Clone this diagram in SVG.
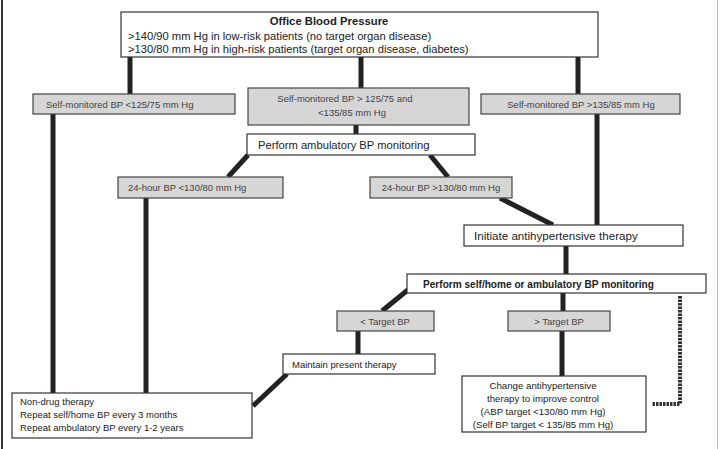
<svg xmlns="http://www.w3.org/2000/svg" width="720" height="449" viewBox="0 0 720 449">
<style>
text{font-family:"Liberation Sans",Arial,sans-serif;fill:#222;}
.w{fill:#fff;stroke:#333;stroke-width:1.2;}
.g{fill:#d6d6d6;stroke:#444;stroke-width:1.2;}
.gt{fill:#444;font-size:9.5px;}
.c{stroke:#222;stroke-width:5;fill:none;}
.m{text-anchor:middle;}
</style>
<rect x="0" y="0" width="720" height="449" fill="#fff"/>
<line x1="2" y1="0" x2="2" y2="449" stroke="#333" stroke-width="2"/>
<line x1="717.5" y1="0" x2="717.5" y2="449" stroke="#bbb" stroke-width="1"/>
<g id="connectors">
<line class="c" x1="130" y1="57" x2="130" y2="94"/>
<line class="c" x1="361" y1="57" x2="361" y2="88"/>
<line class="c" x1="578" y1="57" x2="578" y2="94"/>
<line class="c" x1="356" y1="125" x2="356" y2="134"/>
<line class="c" x1="53" y1="114" x2="53" y2="393"/>
<line class="c" x1="597" y1="114" x2="597" y2="225"/>
<line class="c" x1="248" y1="155" x2="228" y2="177"/>
<line class="c" x1="430" y1="155" x2="448" y2="177"/>
<line class="c" x1="146" y1="198" x2="146" y2="393"/>
<line class="c" x1="500" y1="198" x2="553" y2="225"/>
<line class="c" x1="566" y1="246" x2="566" y2="274"/>
<line class="c" x1="409" y1="289" x2="382" y2="311"/>
<line class="c" x1="563" y1="293" x2="563" y2="311"/>
<line class="c" x1="358" y1="331" x2="358" y2="354"/>
<line class="c" x1="287" y1="374" x2="253" y2="406"/>
<line class="c" x1="562" y1="331" x2="562" y2="376"/>
<polyline points="680,296 680,404 652,404" fill="none" stroke="#333" stroke-width="4" stroke-dasharray="2.5,1"/>
</g>
<g id="office">
<rect class="w" x="121" y="12" width="477" height="45"/>
<text x="329" y="25" class="m" font-size="11.3" font-weight="bold">Office Blood Pressure</text>
<text x="128" y="40" font-size="11.2">&gt;140/90 mm Hg in low-risk patients (no target organ disease)</text>
<text x="128" y="53" font-size="11.2">&gt;130/80 mm Hg in high-risk patients (target organ disease, diabetes)</text>
</g>
<g id="self-low">
<rect class="g" x="33" y="94" width="202" height="20"/>
<text x="46" y="108" class="gt">Self-monitored BP &lt;125/75 mm Hg</text>
</g>
<g id="self-mid">
<rect class="g" x="248" y="88" width="221" height="37"/>
<text x="345" y="102" class="gt m">Self-monitored BP &gt; 125/75 and</text>
<text x="352" y="116" class="gt m">&lt;135/85 mm Hg</text>
</g>
<g id="self-high">
<rect class="g" x="481" y="94" width="199" height="20"/>
<text x="581" y="108" class="gt m">Self-monitored BP &gt;135/85 mm Hg</text>
</g>
<g id="ambulatory">
<rect class="w" x="247" y="134" width="228" height="21"/>
<text x="258" y="149" font-size="11.2">Perform ambulatory BP monitoring</text>
</g>
<g id="h24-low">
<rect class="g" x="118" y="177" width="165" height="21"/>
<text x="128" y="191" class="gt">24-hour BP &lt;130/80 mm Hg</text>
</g>
<g id="h24-high">
<rect class="g" x="370" y="177" width="142" height="21"/>
<text x="441" y="191" class="gt m">24-hour BP &gt;130/80 mm Hg</text>
</g>
<g id="initiate">
<rect class="w" x="464" y="225" width="219" height="21"/>
<text x="474" y="240" font-size="11.6">Initiate antihypertensive therapy</text>
</g>
<g id="perform-self">
<rect class="w" x="407" y="274" width="299" height="19"/>
<text x="423" y="288" font-size="10.1" font-weight="bold">Perform self/home or ambulatory BP monitoring</text>
</g>
<g id="below-target">
<rect class="g" x="337" y="311" width="97" height="20"/>
<text x="385" y="325" class="gt m">&lt; Target BP</text>
</g>
<g id="above-target">
<rect class="g" x="508" y="311" width="102" height="20"/>
<text x="559" y="325" class="gt m">&gt; Target BP</text>
</g>
<g id="maintain">
<rect class="w" x="283" y="354" width="152" height="20"/>
<text x="292" y="368" font-size="9.5">Maintain present therapy</text>
</g>
<g id="change">
<rect class="w" x="462" y="376" width="184" height="56"/>
<text x="543" y="389" class="m" font-size="9.7">Change antihypertensive</text>
<text x="543" y="402" class="m" font-size="9.7">therapy to improve control</text>
<text x="543" y="415" class="m" font-size="9.7">(ABP target &lt;130/80 mm Hg)</text>
<text x="543" y="428" class="m" font-size="9.7">(Self BP target &lt; 135/85 mm Hg)</text>
</g>
<g id="non-drug">
<rect class="w" x="12" y="393" width="240" height="45"/>
<text x="20" y="405" font-size="9.5">Non-drug therapy</text>
<text x="20" y="418" font-size="9.5">Repeat self/home BP every 3 months</text>
<text x="20" y="431" font-size="9.5">Repeat ambulatory BP every 1-2 years</text>
</g>
</svg>
